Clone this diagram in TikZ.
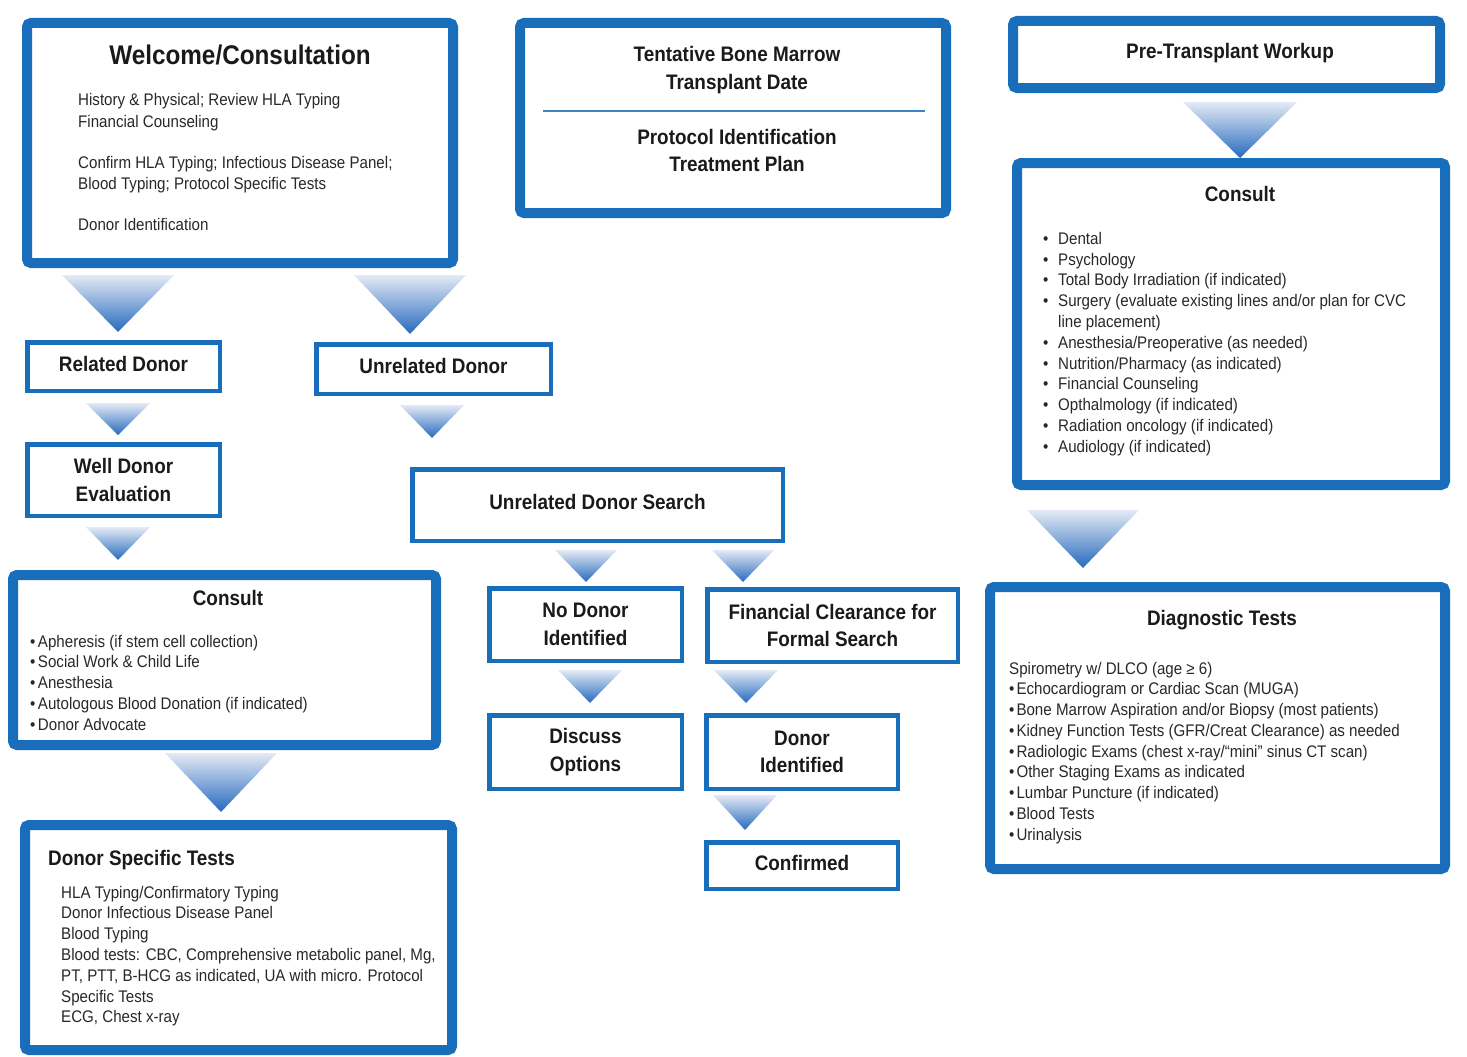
\documentclass[tikz,border=0pt]{standalone}
\usepackage{fontspec}
\setmainfont{Liberation Sans}[FakeStretch=0.9]
\usetikzlibrary{calc}

\definecolor{frameblue}{RGB}{24,110,186}
\definecolor{arrowblue}{RGB}{38,106,190}
\definecolor{arrowpale}{RGB}{228,234,245}
\definecolor{inkdark}{RGB}{26,26,26}
\definecolor{inkbody}{RGB}{40,40,40}

\tikzset{
  thickbox/.style={draw=frameblue, line width=10pt, rounded corners=4pt, fill=white, inner sep=0pt},
  thinbox/.style={draw=frameblue, line width=4.5pt, fill=white, inner sep=0pt, align=center,
    text=inkdark, font=\fontsize{21}{27.5}\selectfont\bfseries},
  oneline/.style={text height=14pt, text depth=5pt},
  bigtitle/.style={font=\fontsize{27}{30}\selectfont\bfseries, text=inkdark, inner sep=0pt, anchor=base},
  hd/.style={font=\fontsize{21}{24}\selectfont\bfseries, text=inkdark, inner sep=0pt, anchor=base},
  bodytxt/.style={font=\fontsize{16.8}{20}\selectfont, text=inkbody, inner sep=0pt, anchor=base west},
  flow/.style={top color=arrowpale, bottom color=arrowblue, draw=none},
  sepline/.style={draw=frameblue!85, line width=1.4pt},
}

% shaded down-pointing triangle hanging below a node:
% #1 source node, #2 gap below it, #3 centre x, #4 half width, #5 height
\newcommand\flowtri[5]{%
  \path[flow] let \p1=(#1.south) in
    ({(#3-#4)*1pt},\y1-#2pt) -- ({(#3+#4)*1pt},\y1-#2pt) -- ({#3*1pt},\y1-#2pt-#5pt) -- cycle;}

\begin{document}
\begin{tikzpicture}[x=1pt,y=-1pt]
\useasboundingbox (0,0) rectangle (1467,1057);
\fill[white] (0,0) rectangle (1467,1057);

% ---------- left column ----------
\node[thickbox, minimum width=426pt, minimum height=240pt] (welcome) at (240,143) {};
\node[bigtitle] (welcome-t) at (240,65) {Welcome/Consultation};
\node[bodytxt] (welcome-1) at (78,106) {History \& Physical; Review HLA Typing};
\node[bodytxt] (welcome-2) at (78,127) {Financial Counseling};
\node[bodytxt] (welcome-3) at (78,168) {Confirm HLA Typing; Infectious Disease Panel;};
\node[bodytxt] (welcome-4) at (78,189) {Blood Typing; Protocol Specific Tests};
\node[bodytxt] (welcome-5) at (78,230) {Donor Identification};

\node[thinbox, oneline, minimum width=192.5pt, minimum height=48.5pt] (related) at (123.5,366.5) {Related Donor};
\node[thinbox, oneline, minimum width=234.5pt, minimum height=49.5pt] (unrelated) at (433.5,369) {Unrelated Donor};
\node[thinbox, minimum width=192.5pt, minimum height=71.5pt] (well) at (123.5,480) {Well Donor\\Evaluation};

\node[thickbox, minimum width=423pt, minimum height=170pt] (consultL) at (224.5,660) {};
\node[hd] (consultL-t) at (228,605) {Consult};
\foreach \t [count=\i from 0] in {Apheresis (if stem cell collection), Social Work \& Child Life,
    Anesthesia, Autologous Blood Donation (if indicated), Donor Advocate}
  \node[bodytxt] (consultL-\i) at (30,647+20.8*\i) {•\hspace{2.5pt}\t};

\node[thickbox, minimum width=427pt, minimum height=225pt] (dst) at (238.5,937.5) {};
\node[hd, anchor=base west] (dst-t) at (48,865) {Donor Specific Tests};
\foreach \t [count=\i from 0] in {HLA Typing/Confirmatory Typing, Donor Infectious Disease Panel,
    Blood Typing, {Blood tests: CBC, Comprehensive metabolic panel, Mg,},
    {PT, PTT, B-HCG as indicated, UA with micro. Protocol}, Specific Tests, {ECG, Chest x-ray}}
  \node[bodytxt] (dst-\i) at (61,898+20.8*\i) {\t};

% ---------- middle column ----------
\node[thickbox, minimum width=426pt, minimum height=190pt] (tentative) at (733,118) {};
\node[hd] (tentative-1) at (737,61.5) {Tentative Bone Marrow};
\node[hd] (tentative-2) at (737,89) {Transplant Date};
\draw[sepline] (543,111) -- (925,111);
\node[hd] (tentative-3) at (737,144) {Protocol Identification};
\node[hd] (tentative-4) at (737,171.5) {Treatment Plan};

\node[thinbox, oneline, minimum width=370.5pt, minimum height=71.5pt] (search) at (597.5,505) {Unrelated Donor Search};
\node[thinbox, minimum width=192.5pt, minimum height=72.5pt] (nodonor) at (585.5,624.5) {No Donor\\Identified};
\node[thinbox, minimum width=250.5pt, minimum height=72.5pt] (financial) at (832.5,625.5) {Financial Clearance for\\Formal Search};
\node[thinbox, minimum width=192.5pt, minimum height=73.5pt] (discuss) at (585.5,752) {Discuss\\Options};
\node[thinbox, minimum width=191.5pt, minimum height=73.5pt] (donorid) at (802,752) {Donor\\Identified};
\node[thinbox, oneline, minimum width=191.5pt, minimum height=46.5pt] (confirmed) at (802,865.5) {Confirmed};

% ---------- right column ----------
\node[thickbox, minimum width=427pt, minimum height=67pt] (pretx) at (1226.5,54.5) {};
\node[hd] (pretx-t) at (1230,59) {Pre-Transplant Workup};

\node[thickbox, minimum width=428pt, minimum height=322pt] (consultR) at (1231,324) {};
\node[hd] (consultR-t) at (1240,201.5) {Consult};
\foreach \t [count=\i from 0] in {Dental, Psychology, Total Body Irradiation (if indicated),
    Surgery (evaluate existing lines and/or plan for CVC, line placement),
    Anesthesia/Preoperative (as needed), Nutrition/Pharmacy (as indicated),
    Financial Counseling, Opthalmology (if indicated), Radiation oncology (if indicated),
    Audiology (if indicated)}
  \node[bodytxt] (consultR-\i) at (1058,244.3+20.8*\i) {\t};
\foreach \i in {0,1,2,3,5,6,7,8,9,10}
  \node[bodytxt] (consultR-b\i) at (1043,244.3+20.8*\i) {•};

\node[thickbox, minimum width=455pt, minimum height=282pt] (diag) at (1217.5,728) {};
\node[hd] (diag-t) at (1222,625) {Diagnostic Tests};
\node[bodytxt] (diag-0) at (1009,674) {Spirometry w/ DLCO (age ≥ 6)};
\foreach \t [count=\i from 1] in {Echocardiogram or Cardiac Scan (MUGA),
    Bone Marrow Aspiration and/or Biopsy (most patients),
    Kidney Function Tests (GFR/Creat Clearance) as needed,
    Radiologic Exams (chest x-ray/“mini” sinus CT scan),
    Other Staging Exams as indicated, Lumbar Puncture (if indicated),
    Blood Tests, Urinalysis}
  \node[bodytxt] (diag-\i) at (1009,674+20.75*\i) {•\hspace{2pt}\t};

% ---------- flow triangles ----------
\flowtri{welcome}{7}{118}{56}{57}
\flowtri{welcome}{7}{410}{56}{59}
\flowtri{related}{10}{118}{32}{32}
\flowtri{unrelated}{9}{432}{32}{33}
\flowtri{well}{9}{118}{32}{33}
\flowtri{consultL}{3}{221}{56}{59}
\flowtri{search}{7}{586}{31}{32}
\flowtri{search}{7}{743}{31}{32}
\flowtri{nodonor}{7}{590}{32}{33}
\flowtri{financial}{6}{746}{32}{33}
\flowtri{donorid}{4}{745}{32}{35}
\flowtri{pretx}{9}{1240}{57}{56}
\flowtri{consultR}{20}{1083}{56}{58}

\end{tikzpicture}
\end{document}
